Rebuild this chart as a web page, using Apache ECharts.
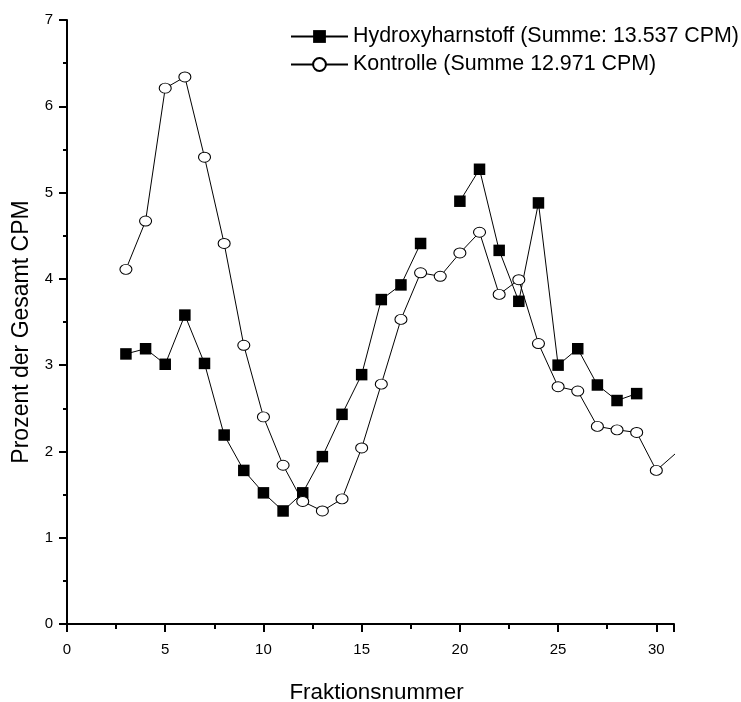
<!DOCTYPE html>
<html>
<head>
<meta charset="utf-8">
<script src="https://cdn.jsdelivr.net/npm/echarts@6/dist/echarts.min.js"></script>
<style>
html,body{margin:0;padding:0;background:#fff;}
#chart{width:741px;height:702px;}
</style>
</head>
<body>
<div id="chart"></div>
<script>
// Fraction numbers (x) and percent of total CPM (y); null = no measurement
const fractions = [3,4,5,6,7,8,9,10,11,12,13,14,15,16,17,18,19,20,21,22,23,24,25,26,27,28,29,30,31];
const hydroxy   = [3.13,3.19,3.01,3.58,3.02,2.19,1.78,1.52,1.31,1.52,1.94,2.43,2.89,3.76,3.93,4.41,null,4.90,5.27,4.33,3.74,4.88,3.00,3.19,2.77,2.59,2.67,null,3.26];
const kontrolle = [4.11,4.67,6.21,6.34,5.41,4.41,3.23,2.40,1.84,1.42,1.31,1.45,2.04,2.78,3.53,4.07,4.03,4.30,4.54,3.82,3.99,3.25,2.75,2.70,2.29,2.25,2.22,1.78,1.98];
const seriesNames = ['Hydroxyharnstoff (Summe: 13.537 CPM)','Kontrolle (Summe 12.971 CPM)'];
const xTitle = 'Fraktionsnummer';
const yTitle = 'Prozent der Gesamt CPM';

const toPairs = vals => fractions.map((f,i) => [f, vals[i] === null ? '-' : vals[i]]);
const FONT = 'Liberation Sans, Arial, sans-serif';

const chart = echarts.init(document.getElementById('chart'), null, {renderer:'canvas'});
chart.setOption({
  animation: false,
  backgroundColor: '#fff',
  textStyle: {fontFamily: FONT, color: '#000'},
  grid: {left: 67, right: 67, top: 20, bottom: 78, containLabel: false, outerBoundsMode: 'none'},
  legend: {
    orient: 'vertical',
    left: 290,
    top: 26,
    padding: 0,
    itemWidth: 57,
    itemHeight: 16,
    itemGap: 7,
    textStyle: {fontFamily: FONT, fontSize: 21.4, color: '#000', lineHeight: 20},
    data: seriesNames
  },
  xAxis: {
    type: 'value',
    min: 0, max: 30.9, interval: 5,
    name: xTitle, nameLocation: 'middle', nameGap: 58,
    nameTextStyle: {fontFamily: FONT, fontSize: 22.4, color: '#000', padding: [0, 0, 0, 12]},
    axisLine: {show: true, onZero: false, lineStyle: {color: '#000', width: 2}},
    axisTick: {show: true, inside: false, length: 8, lineStyle: {color: '#000', width: 2}},
    minorTick: {show: true, splitNumber: 2, length: 5, lineStyle: {color: '#000', width: 2}},
    axisLabel: {fontFamily: FONT, fontSize: 15, color: '#000', margin: 18,
      formatter: v => (Math.abs(v - Math.round(v)) < 1e-6 && v % 5 === 0) ? String(v) : ''},
    splitLine: {show: false}
  },
  yAxis: {
    type: 'value',
    min: 0, max: 7, interval: 1,
    name: yTitle, nameLocation: 'middle', nameGap: 34,
    nameTextStyle: {fontFamily: FONT, fontSize: 23, color: '#000', padding: [0, 20, 0, 0]},
    axisLine: {show: true, onZero: false, lineStyle: {color: '#000', width: 2}},
    axisTick: {show: true, inside: false, length: 8, lineStyle: {color: '#000', width: 2}},
    minorTick: {show: true, splitNumber: 2, length: 4, lineStyle: {color: '#000', width: 2}},
    axisLabel: {fontFamily: FONT, fontSize: 15, color: '#000', margin: 14},
    splitLine: {show: false}
  },
  series: [
    {
      name: seriesNames[0],
      type: 'line',
      data: toPairs(hydroxy),
      connectNulls: false,
      clip: true,
      symbol: 'rect',
      symbolSize: 11.5,
      showAllSymbol: true,
      lineStyle: {color: '#000', width: 1},
      itemStyle: {color: '#000', borderColor: '#000', borderWidth: 0},
      emphasis: {disabled: true}
    },
    {
      name: seriesNames[1],
      type: 'line',
      data: toPairs(kontrolle),
      connectNulls: false,
      clip: true,
      symbol: 'circle',
      symbolSize: [12, 10],
      showAllSymbol: true,
      lineStyle: {color: '#000', width: 1},
      itemStyle: {color: '#fff', borderColor: '#000', borderWidth: 1},
      emphasis: {disabled: true}
    }
  ]
});
</script>
</body>
</html>
